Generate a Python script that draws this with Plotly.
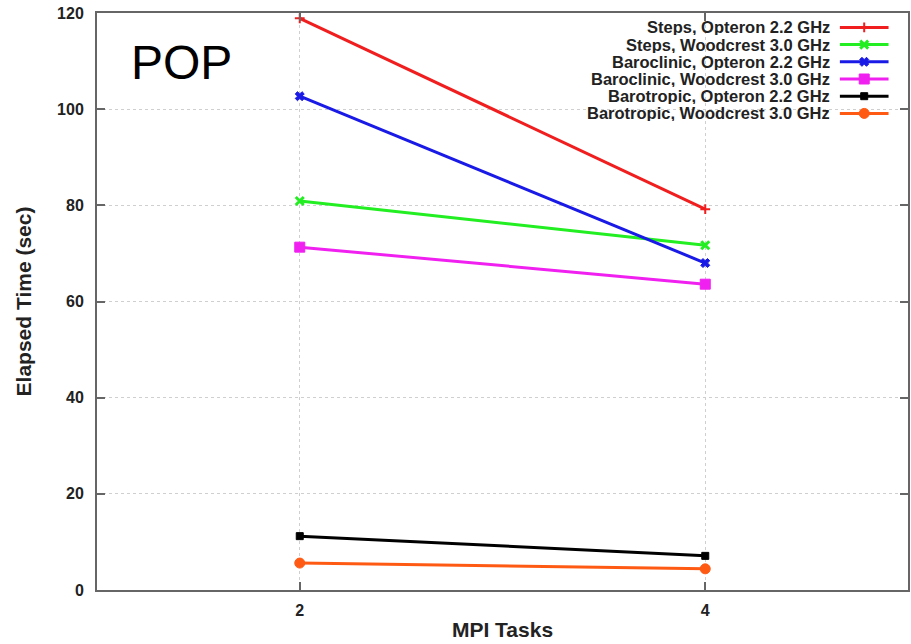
import plotly.graph_objects as go

tasks = [2, 4]
steps_opteron = [118.9, 79.2]
steps_woodcrest = [80.9, 71.7]
baroclinic_opteron = [102.7, 68.0]
baroclinic_woodcrest = [71.3, 63.6]
barotropic_opteron = [11.2, 7.1]
barotropic_woodcrest = [5.6, 4.4]

names = ["Steps, Opteron 2.2 GHz", "Steps, Woodcrest 3.0 GHz",
         "Baroclinic, Opteron 2.2 GHz", "Baroclinic, Woodcrest 3.0 GHz",
         "Barotropic, Opteron 2.2 GHz", "Barotropic, Woodcrest 3.0 GHz"]
series = [steps_opteron, steps_woodcrest, baroclinic_opteron,
          baroclinic_woodcrest, barotropic_opteron, barotropic_woodcrest]
colors = ["#f01e1e", "#22ee22", "#1a1ae6", "#f020f0", "#000000", "#ff5a14"]
symbols = ["cross-thin", "x-thin", "x", "square", "square", "circle"]
sizes = [7, 8, 8, 10, 7, 10]
mlw = [2, 3, 1, 1, 1, 1]

FONT = "Liberation Sans, Arial, sans-serif"
fig = go.Figure()

for n, s, c, sym, sz, lw in zip(names, series, colors, symbols, sizes, mlw):
    fig.add_trace(go.Scatter(
        x=tasks, y=s, mode="lines+markers", name=n, showlegend=False,
        line=dict(color=c, width=3),
        marker=dict(color=c, symbol=sym, size=sz, line=dict(color=c, width=lw)),
    ))

# Manual legend (text left of sample, gnuplot style) on an overlay axis
leg_y0 = 0.975
leg_dy = 0.0298
for i, (n, c, sym, sz, lw) in enumerate(zip(names, colors, symbols, sizes, mlw)):
    yy = leg_y0 - i * leg_dy
    fig.add_trace(go.Scatter(
        x=[0.916, 0.946, 0.976], y=[yy, yy, yy], xaxis="x2", yaxis="y2",
        mode="lines", showlegend=False, hoverinfo="skip",
        line=dict(color=c, width=3),
    ))
    fig.add_trace(go.Scatter(
        x=[0.946], y=[yy], xaxis="x2", yaxis="y2",
        mode="markers", showlegend=False, hoverinfo="skip",
        marker=dict(color=c, symbol=sym, size=sz, line=dict(color=c, width=lw)),
    ))
    fig.add_annotation(
        x=0.9045, y=yy, xref="x2", yref="y2", text="<b>%s</b>" % n,
        showarrow=False, xanchor="right", yanchor="middle",
        height=16, borderpad=0,
        font=dict(family=FONT, size=16.5, color="#222"),
    )

fig.add_annotation(
    x=0.04, y=0.915, xref="paper", yref="paper", text="POP",
    showarrow=False, xanchor="left", yanchor="middle",
    font=dict(family=FONT, size=48, color="#000"),
)

axis_common = dict(
    showline=True, linecolor="#666", linewidth=2, mirror="ticks",
    ticks="inside", ticklen=8, tickcolor="#666", tickwidth=1.5,
    showgrid=True, gridcolor="#cfcfcf", griddash="dot", gridwidth=1,
    zeroline=False, automargin=False,
    tickfont=dict(family=FONT, size=16, color="#222", weight="bold"),
)

fig.update_layout(
    width=911, height=644,
    margin=dict(l=97, r=3, t=13, b=54),
    plot_bgcolor="white", paper_bgcolor="white",
    xaxis=dict(range=[1, 5], tickvals=[2, 4], ticklabelstandoff=5,
               title=dict(text="<b>MPI Tasks</b>", standoff=4,
                          font=dict(family=FONT, size=21, color="#222")),
               **axis_common),
    yaxis=dict(range=[0, 120], tickvals=[0, 20, 40, 60, 80, 100, 120],
               ticklabelstandoff=8,
               title=dict(text="<b>Elapsed Time (sec)</b>", standoff=20,
                          font=dict(family=FONT, size=21, color="#222")),
               **axis_common),
    xaxis2=dict(overlaying="x", range=[0, 1], visible=False, fixedrange=True),
    yaxis2=dict(overlaying="y", range=[0, 1], visible=False, fixedrange=True),
)

fig.write_html("out.html")
